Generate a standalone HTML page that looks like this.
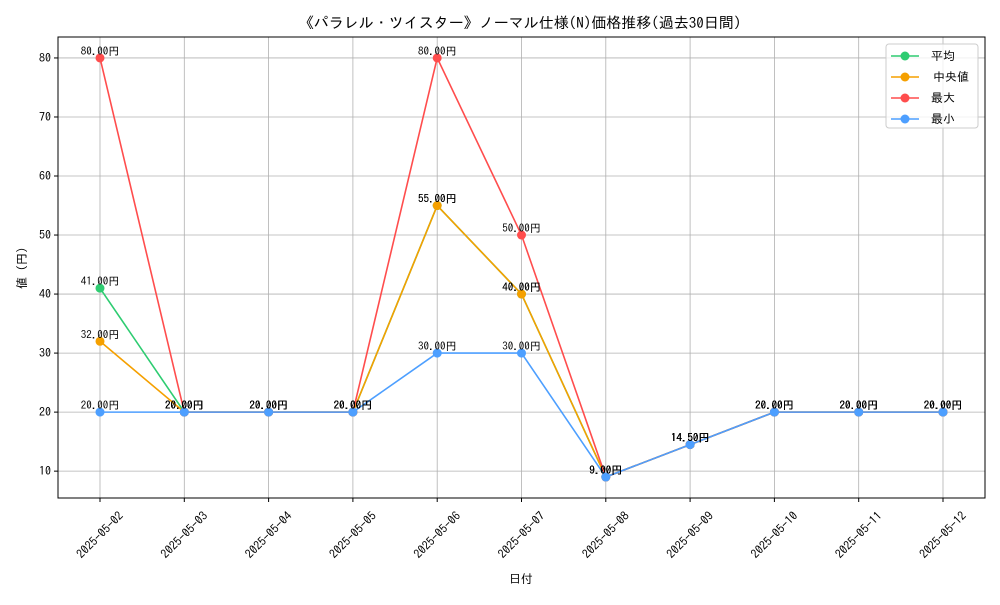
<!DOCTYPE html>
<html><head><meta charset="utf-8"><style>
body{margin:0;background:#fff}
svg text{font-family:"IPAGothic","Liberation Sans",sans-serif;fill:#000}
</style></head><body>
<svg id="chart" width="1000" height="600" xmlns="http://www.w3.org/2000/svg">
<rect width="1000" height="600" fill="#fff"/>
<text x="520" y="28" text-anchor="middle" font-size="15">《パラレル・ツイスター》ノーマル仕様(N)価格推移(過去30日間)</text>
<g id="grid"></g><g id="axes"></g><g id="series"></g><g id="labels"></g>
<rect x="58" y="37" width="927" height="461" fill="none" stroke="#000" stroke-width="1"/>
<text x="521" y="583" text-anchor="middle" font-size="12">日付</text>
<text transform="translate(26,268) rotate(-90)" text-anchor="middle" font-size="12">値 (円)</text>
<g>
<rect x="886" y="44" width="92" height="84" rx="3" fill="#fff" fill-opacity="0.8" stroke="#ccc"/>
<g id="legend-items"></g>
</g>
</svg>
<script>
const categories=["2025-05-02","2025-05-03","2025-05-04","2025-05-05","2025-05-06","2025-05-07","2025-05-08","2025-05-09","2025-05-10","2025-05-11","2025-05-12"];
const meanVals=[41,20,20,20,55,40,9,14.5,20,20,20];
const medianVals=[32,20,20,20,55,40,9,14.5,20,20,20];
const maxVals=[80,20,20,20,80,50,9,14.5,20,20,20];
const minVals=[20,20,20,20,30,30,9,14.5,20,20,20];
const yTicks=[10,20,30,40,50,60,70,80];
const seriesNames=["平均","中央値","最大","最小"];
const seriesColors=["#2ecc71","#f5a000","#ff4d4d","#4d9fff"];
const NS="http://www.w3.org/2000/svg";
const all=[meanVals,medianVals,maxVals,minVals];
let lo=Math.min(...all.flat()),hi=Math.max(...all.flat());
const pad=(hi-lo)*0.05;const yMin=lo-pad,yMax=hi+pad;
const L=58,R=985,T=37,B=498;
const xStep=(943-100)/(categories.length-1);
const xs=i=>100+i*xStep;
const ys=v=>B-(v-yMin)/(yMax-yMin)*(B-T);
function mk(tag,at,parent){const e=document.createElementNS(NS,tag);for(const k in at)e.setAttribute(k,at[k]);parent.appendChild(e);return e;}
const grid=document.getElementById('grid'),axes=document.getElementById('axes');
categories.forEach((c,i)=>{
 const g=mk('line',{x1:xs(i),x2:xs(i),y1:T,y2:B,stroke:'#b0b0b0','stroke-width':0.8},grid);
 
 mk('line',{x1:xs(i),x2:xs(i),y1:B,y2:B+4,stroke:'#000'},axes);
 const t=mk('text',{x:0,y:4,'text-anchor':'middle','font-size':12,transform:`translate(${xs(i)},535) rotate(-45)`},axes);
 t.textContent=c;
 
});
yTicks.forEach(v=>{
 const g=mk('line',{x1:L,x2:R,y1:ys(v),y2:ys(v),stroke:'#b0b0b0','stroke-width':0.8},grid);
 
 mk('line',{x1:L-4,x2:L,y1:ys(v),y2:ys(v),stroke:'#000'},axes);
 const t=mk('text',{x:L-7,y:ys(v)+4,'text-anchor':'end','font-size':12},axes);
 t.textContent=v;
 
});
const sg=document.getElementById('series'),lg=document.getElementById('labels');
all.forEach((vals,s)=>{
 const p=mk('polyline',{points:vals.map((v,i)=>xs(i)+','+ys(v)).join(' '),fill:'none',stroke:seriesColors[s],'stroke-width':1.6},sg);
 
 vals.forEach((v,i)=>{
  const c=mk('circle',{cx:xs(i),cy:ys(v),r:4.5,fill:seriesColors[s]},sg);
  
  const t=mk('text',{x:xs(i),y:ys(v)-3,'text-anchor':'middle','font-size':11},lg);
  t.textContent=v.toFixed(2)+'円';
  
 });
});
const li=document.getElementById('legend-items');
seriesNames.forEach((n,s)=>{
 const y=56+s*21;
 const g=mk('g',{},li);
 
 mk('line',{x1:891,x2:919,y1:y,y2:y,stroke:seriesColors[s],'stroke-width':1.6},g);
 mk('circle',{cx:905,cy:y,r:4.5,fill:seriesColors[s]},g);
 const t=mk('text',{x:(s==1?933:931),y:y+4,'font-size':12},g);
 t.textContent=n;
});
</script>
</body></html>
